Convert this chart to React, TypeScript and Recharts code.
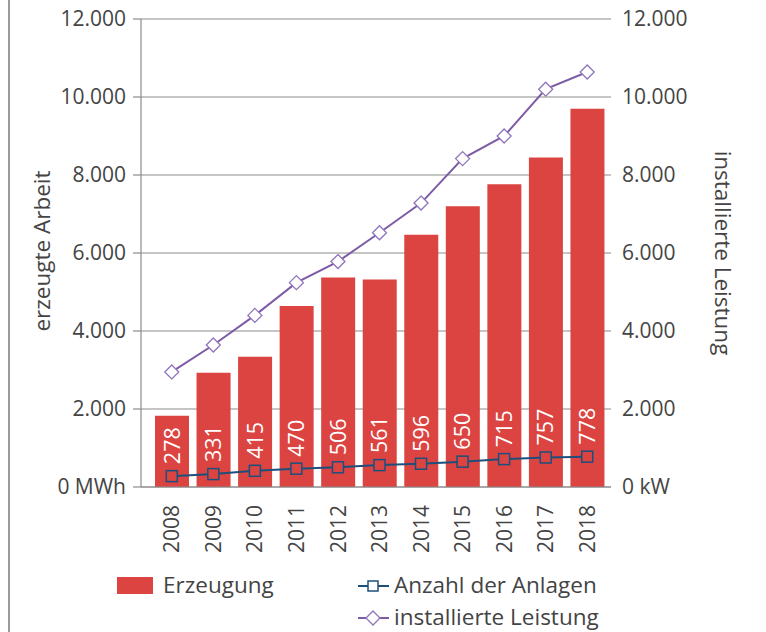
import { Bar, ComposedChart, CartesianGrid, Label, LabelList, Line, XAxis, YAxis } from 'recharts';

const years = ['2008', '2009', '2010', '2011', '2012', '2013', '2014', '2015', '2016', '2017', '2018'];
const erzeugung = [1830, 2930, 3340, 4640, 5370, 5320, 6470, 7200, 7760, 8450, 9700];
const anzahl = [278, 331, 415, 470, 506, 561, 596, 650, 715, 757, 778];
const leistung = [2950, 3640, 4400, 5240, 5780, 6520, 7280, 8420, 9000, 10200, 10640];
const yTicks = [0, 2000, 4000, 6000, 8000, 10000, 12000];

const data = years.map((year, i) => ({
  year,
  erzeugung: erzeugung[i],
  anzahl: anzahl[i],
  leistung: leistung[i],
}));

const FONT = '"Open Sans", sans-serif';
const TEXT = '#444444';
const GRID = '#8c8c8c';
const RED = '#db4441';
const BLUE = '#1d4f7c';
const PURPLE = '#7d5ba6';
const PURPLE_LIGHT = '#8f74bb';

const fmt = (v: number) => String(v).replace(/\B(?=(\d{3})+(?!\d))/g, '.');

function YearTick({ x, y, payload }: any) {
  return (
    <text
      x={x}
      y={y + 10}
      transform={`rotate(-90, ${x}, ${y + 10})`}
      textAnchor="end"
      dy="0.36em"
      fill={TEXT}
      fontSize={21}
      fontFamily={FONT}
    >
      {payload.value}
    </text>
  );
}

function CountLabel({ x, y, value }: any) {
  const ly = y - 12;
  return (
    <text
      x={x}
      y={ly}
      transform={`rotate(-90, ${x}, ${ly})`}
      textAnchor="start"
      dy="0.36em"
      fill="#ffffff"
      fontSize={21.5}
      fontFamily={FONT}
    >
      {value}
    </text>
  );
}

function SquareDot({ cx, cy }: any) {
  return <rect x={cx - 5.5} y={cy - 5.5} width={11} height={11} fill={RED} stroke={BLUE} strokeWidth={1.5} />;
}

function DiamondDot({ cx, cy }: any) {
  const r = 7;
  return (
    <path
      d={`M${cx},${cy - r} L${cx + r},${cy} L${cx},${cy + r} L${cx - r},${cy} Z`}
      fill="#ffffff"
      stroke={PURPLE_LIGHT}
      strokeWidth={1.3}
    />
  );
}

const legendText = { position: 'absolute' as const, fontFamily: FONT, fontSize: 22.5, color: TEXT, lineHeight: '26px', whiteSpace: 'nowrap' as const };

export default function App() {
  return (
    <div style={{ position: 'absolute', left: 0, top: 0, width: 766, height: 632, background: '#fff' }}>
      <div style={{ position: 'absolute', left: 8, top: 0, width: 1.5, height: 632, background: '#9a9a9a' }} />
      <ComposedChart
        width={766}
        height={632}
        data={data}
        margin={{ top: 19, right: 0, bottom: 0, left: 0 }}
        barSize={34}
      >
        <CartesianGrid yAxisId="left" vertical={false} stroke={GRID} strokeWidth={1.2} />
        <XAxis
          dataKey="year"
          height={145}
          padding={{ left: 10, right: 3 }}
          axisLine={{ stroke: GRID, strokeWidth: 1.2 }}
          tickLine={false}
          tick={<YearTick />}
          interval={0}
        />
        <YAxis
          yAxisId="left"
          width={141}
          domain={[0, 12000]}
          ticks={yTicks}
          interval={0}
          tickSize={8}
          tickMargin={7}
          axisLine={{ stroke: GRID, strokeWidth: 1.2 }}
          tickLine={{ stroke: GRID, strokeWidth: 1.2 }}
          tick={{ fill: TEXT, fontSize: 21, fontFamily: FONT }}
          tickFormatter={(v: number) => (v === 0 ? '0 MWh' : fmt(v))}
        >
          <Label
            content={() => (
              <text
                x={42}
                y={251}
                transform="rotate(-90, 42, 251)"
                textAnchor="middle"
                dy="0.36em"
                fill={TEXT}
                fontSize={22.5}
                fontFamily={FONT}
              >
                erzeugte Arbeit
              </text>
            )}
          />
        </YAxis>
        <YAxis
          yAxisId="right"
          orientation="right"
          width={155}
          domain={[0, 12000]}
          ticks={yTicks}
          interval={0}
          tickSize={0}
          tickMargin={11}
          axisLine={false}
          tickLine={false}
          tick={{ fill: TEXT, fontSize: 21, fontFamily: FONT, textAnchor: 'start' }}
          tickFormatter={(v: number) => (v === 0 ? '0 kW' : fmt(v))}
        >
          <Label
            content={() => (
              <text
                x={723}
                y={253}
                transform="rotate(90, 723, 253)"
                textAnchor="middle"
                dy="0.36em"
                fill={TEXT}
                fontSize={22.5}
                fontFamily={FONT}
              >
                installierte Leistung
              </text>
            )}
          />
        </YAxis>
        <Bar yAxisId="left" dataKey="erzeugung" fill={RED} isAnimationActive={false} />
        <Line
          yAxisId="right"
          type="linear"
          dataKey="anzahl"
          stroke={BLUE}
          strokeWidth={2}
          dot={<SquareDot />}
          activeDot={false}
          isAnimationActive={false}
        >
          <LabelList dataKey="anzahl" content={<CountLabel />} />
        </Line>
        <Line
          yAxisId="right"
          type="linear"
          dataKey="leistung"
          stroke={PURPLE}
          strokeWidth={2}
          dot={<DiamondDot />}
          activeDot={false}
          isAnimationActive={false}
        />
      </ComposedChart>

      <div style={{ position: 'absolute', left: 117, top: 577, width: 36, height: 17, background: RED }} />
      <div style={{ ...legendText, left: 163, top: 572 }}>Erzeugung</div>

      <svg style={{ position: 'absolute', left: 356, top: 574 }} width={36} height={56}>
        <line x1={2} y1={12} x2={33} y2={12} stroke={BLUE} strokeWidth={2} />
        <rect x={12} y={7} width={10} height={10} fill="#fff" stroke={BLUE} strokeWidth={1.5} />
        <line x1={2} y1={44} x2={33} y2={44} stroke={PURPLE} strokeWidth={2} />
        <path d="M17,37 L24,44 L17,51 L10,44 Z" fill="#fff" stroke={PURPLE_LIGHT} strokeWidth={1.3} />
      </svg>
      <div style={{ ...legendText, left: 394, top: 572 }}>Anzahl der Anlagen</div>
      <div style={{ ...legendText, left: 394, top: 604 }}>installierte Leistung</div>
    </div>
  );
}
